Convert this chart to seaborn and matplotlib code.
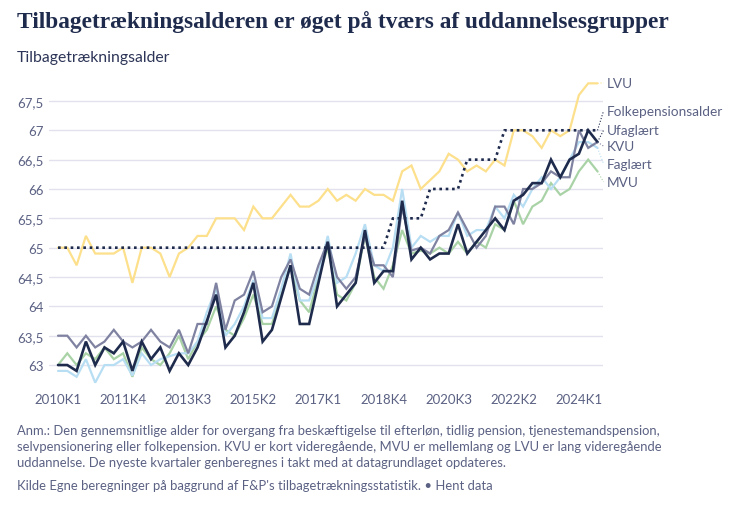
import pandas as pd
import seaborn as sns
import matplotlib.pyplot as plt

# quarters 2010K1 .. 2024K3
quarters = [f"{y}K{q}" for y in range(2010, 2025) for q in range(1, 5)][:59]

lvu = [65.0, 65.0, 64.7, 65.2, 64.9, 64.9, 64.9, 65.0, 64.4, 65.0, 65.0, 64.9, 64.5, 64.9,
       65.0, 65.2, 65.2, 65.5, 65.5, 65.5, 65.3, 65.7, 65.5, 65.5, 65.7, 65.9, 65.7,
       65.7, 65.8, 66.0, 65.8, 65.9, 65.8, 66.0, 65.9, 65.9, 65.8, 66.3, 66.4, 66.0,
       66.15, 66.3, 66.6, 66.5, 66.3, 66.4, 66.3, 66.5, 66.4, 67.0, 67.0, 66.9, 66.7,
       67.0, 66.9, 67.0, 67.6, 67.8, 67.8]
folkepension = [65.0, 65.0, 65.0, 65.0, 65.0, 65.0, 65.0, 65.0, 65.0, 65.0, 65.0, 65.0,
                65.0, 65.0, 65.0, 65.0, 65.0, 65.0, 65.0, 65.0, 65.0, 65.0, 65.0, 65.0,
                65.0, 65.0, 65.0, 65.0, 65.0, 65.0, 65.0, 65.0, 65.0, 65.0, 65.0, 65.0,
                65.5, 65.5, 65.5, 65.5, 66.0, 66.0, 66.0, 66.0, 66.5, 66.5, 66.5, 66.5,
                67.0, 67.0, 67.0, 67.0, 67.0, 67.0, 67.0, 67.0, 67.0, 67.0, 67.0]
ufaglaert = [63.0, 63.0, 62.9, 63.4, 63.0, 63.3, 63.2, 63.4, 62.9, 63.4, 63.1, 63.3, 62.9,
             63.2, 63.0, 63.3, 63.75, 64.2, 63.3, 63.5, 63.9, 64.4, 63.4, 63.6, 64.15, 64.7,
             63.7, 63.7, 64.4, 65.1, 64.0, 64.2, 64.4, 65.3, 64.4, 64.6, 64.6, 65.8, 64.8,
             65.0, 64.8, 64.9, 64.9, 65.4, 64.9, 65.1, 65.3, 65.5, 65.3, 65.8, 65.9, 66.1,
             66.1, 66.5, 66.2, 66.5, 66.6, 67.0, 66.8]
kvu = [63.5, 63.5, 63.3, 63.5, 63.3, 63.4, 63.6, 63.4, 63.3, 63.4, 63.6, 63.4, 63.3, 63.6,
       63.2, 63.7, 63.7, 64.4, 63.6, 64.1, 64.2, 64.6, 63.9, 64.0, 64.5, 64.8, 64.3,
       64.2, 64.7, 65.1, 64.5, 64.3, 64.5, 65.2, 64.7, 64.7, 64.5, 65.7, 64.95, 65.0,
       64.9, 65.2, 65.3, 65.6, 65.3, 65.0, 65.2, 65.7, 65.7, 65.4, 66.0, 66.0, 66.1,
       66.3, 66.2, 66.2, 67.0, 66.7, 66.8]
faglaert = [62.9, 62.9, 62.8, 63.1, 62.7, 63.0, 63.0, 63.1, 62.82, 63.2, 63.0, 63.1, 63.15,
            63.2, 63.2, 63.4, 63.9, 64.3, 63.5, 63.7, 64.0, 64.45, 63.8, 63.8, 64.3, 64.9,
            64.1, 64.1, 64.55, 65.2, 64.4, 64.5, 64.9, 65.4, 64.7, 64.6, 65.0, 66.0, 65.0,
            65.2, 65.1, 65.2, 65.2, 65.6, 65.2, 65.3, 65.3, 65.7, 65.5, 65.9, 65.7, 66.0,
            66.2, 66.0, 66.2, 66.5, 66.8, 66.8, 66.7]
mvu = [63.0, 63.2, 63.0, 63.2, 63.1, 63.3, 63.1, 63.2, 62.8, 63.3, 63.1, 63.0, 63.2, 63.5,
       63.1, 63.4, 63.6, 64.0, 63.6, 63.5, 63.8, 64.2, 63.7, 63.7, 64.2, 64.7, 64.1,
       63.9, 64.5, 65.0, 64.2, 64.1, 64.4, 65.2, 64.5, 64.3, 64.7, 65.3, 64.9, 64.95,
       64.9, 65.0, 64.9, 65.1, 64.9, 65.1, 65.0, 65.4, 65.3, 65.8, 65.4, 65.7, 65.8,
       66.1, 65.9, 66.0, 66.3, 66.5, 66.3]

series_names = ["MVU", "Faglært", "KVU", "LVU", "Folkepensionsalder", "Ufaglært"]
series_values = [mvu, faglaert, kvu, lvu, folkepension, ufaglaert]

ytick_values = [63, 63.5, 64, 64.5, 65, 65.5, 66, 66.5, 67, 67.5]
xtick_step = 7

# styling
navy = "#1f2b4d"
text_col = "#5b6183"
colors = {"LVU": "#fde08c", "Folkepensionsalder": navy, "Ufaglært": navy,
          "KVU": "#7f82a0", "Faglært": "#b8def3", "MVU": "#a9d3a6"}
widths = {"LVU": 1.6, "Folkepensionsalder": 1.9, "Ufaglært": 1.9,
          "KVU": 1.6, "Faglært": 1.6, "MVU": 1.6}
label_y = {"LVU": 67.81, "Folkepensionsalder": 67.33, "Ufaglært": 67.0,
           "KVU": 66.73, "Faglært": 66.43, "MVU": 66.12}

df = pd.DataFrame({"idx": list(range(len(quarters))) * len(series_names),
                   "gruppe": [n for n in series_names for _ in quarters],
                   "alder": [v for s in series_values for v in s]})

sns.set_theme(style="white")
plt.rcParams["font.family"] = ["Lato", "DejaVu Sans"]

fig = plt.figure(figsize=(7.31, 5.06), dpi=100)
ax = fig.add_axes([0.067, 0.2302, 0.758, 0.6147])

for name in series_names:
    sub = df[df["gruppe"] == name]
    sns.lineplot(data=sub, x="idx", y="alder", ax=ax, color=colors[name],
                 lw=widths[name], linestyle=(0, (1, 1.4)) if name == "Folkepensionsalder" else "-",
                 solid_joinstyle="miter")

last = len(quarters) - 1
for name, vals in zip(series_names, series_values):
    ax.plot([last, last + 0.65], [vals[-1], label_y[name]], color=colors[name],
            lw=0.8, ls=":", clip_on=False)
    ax.text(last + 1.0, label_y[name], name, color=text_col, fontsize=9.8,
            va="center", ha="left", clip_on=False)

ax.set_xlim(-0.97, 58.6)
ax.set_ylim(62.6, 67.9)
ax.set_yticks(ytick_values)
ax.set_yticklabels([f"{v:g}".replace(".", ",") for v in ytick_values])
xt = list(range(0, len(quarters), xtick_step))
ax.set_xticks(xt)
ax.set_xticklabels([quarters[i] for i in xt])
ax.grid(axis="y", color="#e2e2ef", lw=1)
ax.set_axisbelow(True)
for s in ax.spines.values():
    s.set_visible(False)
ax.tick_params(axis="both", length=0, labelsize=9.5, labelcolor=text_col)
ax.tick_params(axis="y", pad=4)
ax.tick_params(axis="x", pad=3)
ax.set_xlabel("")
ax.set_ylabel("")
if ax.get_legend():
    ax.get_legend().remove()

fig.text(0.023, 1 - 22 / 506, "Tilbagetrækningsalderen er øget på tværs af uddannelsesgrupper",
         fontsize=16.8, fontweight="bold", family=["Liberation Serif", "DejaVu Serif"],
         color=navy, va="center", ha="left")
fig.text(0.023, 1 - 58 / 506, "Tilbagetrækningsalder", fontsize=11.3, color="#2c3457",
         va="center", ha="left")
note = ("Anm.: Den gennemsnitlige alder for overgang fra beskæftigelse til efterløn, tidlig pension, tjenestemandspension,\n"
        "selvpensionering eller folkepension. KVU er kort videregående, MVU er mellemlang og LVU er lang videregående\n"
        "uddannelse. De nyeste kvartaler genberegnes i takt med at datagrundlaget opdateres.")
fig.text(0.023, 1 - 425 / 506, note, fontsize=9.35, color=text_col, va="top", ha="left",
         linespacing=1.38)
fig.text(0.023, 1 - 486 / 506, "Kilde Egne beregninger på baggrund af F&P's tilbagetrækningsstatistik. • Hent data",
         fontsize=9.35, color=text_col, va="center", ha="left")

fig.savefig("out.png", dpi=100)
